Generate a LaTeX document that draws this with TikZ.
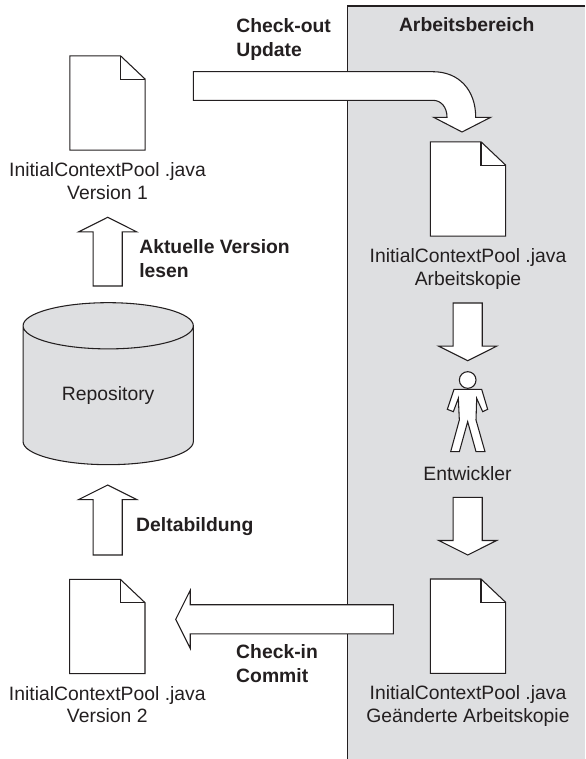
\documentclass[tikz,border=0pt]{standalone}
\usepackage{fontspec}
\setmainfont{Liberation Sans}
\usetikzlibrary{positioning}
\usetikzlibrary{calc}
\usetikzlibrary{shapes.geometric}
\definecolor{panelgray}{HTML}{DEDFE1}
\definecolor{inkgray}{HTML}{231F20}

\begin{document}
\begin{tikzpicture}[x=0.75pt,
        y=-0.75pt,
        line width=0.8pt,
        draw=inkgray,
        text=inkgray,
        node distance=9pt,
        docfile/.style={
        minimum width=55.7pt,
        minimum height=70pt,
        inner sep=0pt},
        filelabel/.style={
        align=center,
        inner sep=0pt,
        font=\fontsize{14.5}{17}\selectfont},
        actionlabel/.style={
        align=left,
        anchor=west,
        inner sep=0pt,
        font=\fontsize{14.5}{18}\selectfont\bfseries},
        blockarrow/.style={
        draw=inkgray,
        fill=white,
        to path={
        ($(\tikztostart)!10.9pt!-90:(\tikztotarget)$)
        -- ($($(\tikztotarget)!10.9pt!(\tikztostart)$)!10.9pt!-90:(\tikztotarget)$)
        -- ($($(\tikztotarget)!10.9pt!(\tikztostart)$)!21.75pt!-90:(\tikztotarget)$)
        -- (\tikztotarget)
        -- ($($(\tikztotarget)!10.9pt!(\tikztostart)$)!21.75pt!90:(\tikztotarget)$)
        -- ($($(\tikztotarget)!10.9pt!(\tikztostart)$)!10.9pt!90:(\tikztotarget)$)
        -- ($(\tikztostart)!10.9pt!90:(\tikztotarget)$)
        -- cycle}}]

        \useasboundingbox (0,0) rectangle (585,759);

        % workspace panel
        \fill[panelgray] (347.5,6) rectangle (585,759);
        \draw (585,6) -- (347.5,6) -- (347.5,759);
        \node[actionlabel] (workspace) at (398.5,24.7) {Arbeitsbereich};

        \node[docfile] (doc1) at (107.5,103) {};
        \node[docfile] (doc2) at (468,189) {};
        \node[docfile] (doc3) at (107.3,626.5) {};
        \node[docfile] (doc4) at (468,626.2) {};

        % page outline with folded corner
        \foreach \docname in {doc1,doc2,doc3,doc4} {
        \draw[fill=white] (\docname.north west) -- ([xshift=-18.5pt]\docname.north east) -- ([yshift=-17.5pt]\docname.north east)
        -- (\docname.south east) -- (\docname.south west) -- cycle;
        \draw ([xshift=-18.5pt]\docname.north east) |- ([yshift=-17.5pt]\docname.north east);
        }

        \node[filelabel, below=of doc1] (label1) {InitialContextPool .java\\Version 1};
        \node[filelabel, below=of doc2] (label2) {InitialContextPool .java\\Arbeitskopie};
        \node[filelabel, below=of doc3] (label3) {InitialContextPool .java\\Version 2};
        \node[filelabel, below=of doc4] (label4) {InitialContextPool .java\\Geänderte Arbeitskopie};

        \node[cylinder, shape border rotate=90, aspect=0.5, draw=inkgray, fill=panelgray,
        minimum width=127.7pt, minimum height=121.5pt, inner sep=0pt,
        font=\fontsize{14.5}{17}\selectfont] (repo) at (108.2,395.5) {Repository};

        % person
        \node[circle, draw=inkgray, fill=white, minimum size=12.5pt, inner sep=0pt] (devhead) at (467.7,380) {};
        \begin{scope}[shift={(340,340)}, x=0.25pt, y=-0.25pt]
        \draw[fill=white] (342,148) -- (425,148) -- (443,208) -- (428,215) -- (410,175) -- (408,240)
        -- (435,335) -- (408,335) -- (383,245) -- (358,335) -- (332,335) -- (358,240) -- (355,175)
        -- (340,215) -- (322,208) -- cycle;
        \end{scope}
        \node[filelabel] (dev) at (467.5,473.5) {Entwickler};

        % arrow ends
        \coordinate (read0) at (107.7,286);
        \coordinate (read1) at (107.7,217.3);
        \coordinate (delta0) at (107.7,555);
        \coordinate (delta1) at (107.7,485);
        \coordinate (checkin0) at (393.3,619.3);
        \coordinate (checkin1) at (175.7,619.3);
        \coordinate (edit0) at (467.7,303);
        \coordinate (edit1) at (467.7,360.7);
        \coordinate (edit2) at (467.7,497.3);
        \coordinate (edit3) at (467.7,555);

        \draw[blockarrow] (read0) to (read1);
        \draw[blockarrow] (delta0) to (delta1);
        \draw[blockarrow] (checkin0) to (checkin1);
        \draw[blockarrow] (edit0) to (edit1);
        \draw[blockarrow] (edit2) to (edit3);

        % check-out arrow
        \coordinate (checkout0) at (193.3,86);
        \coordinate (checkout1) at (462,132);
        \draw[fill=white] ($(checkout0)+(0,-14.3)$) -- (432.8,71.7) .. controls (459,71.7) and (475.7,90) .. (475.7,117.3)
        -- (490.7,117.3) -- (checkout1) -- (433.6,117.3) -- (447,117.3) .. controls (447,107) and (441,100.3) .. (432.8,100.3)
        -- ($(checkout0)+(0,14.3)$) -- cycle;

        \node[actionlabel] (checkout) at (235.8,39.7) {Check-out\\Update};
        \node[actionlabel] (readlabel) at (138.8,259) {Aktuelle Version\\lesen};
        \node[actionlabel] (deltalabel) at (135.7,526.7) {Deltabildung};
        \node[actionlabel] (checkin) at (235.7,663.7) {Check-in\\Commit};
\end{tikzpicture}
\end{document}
